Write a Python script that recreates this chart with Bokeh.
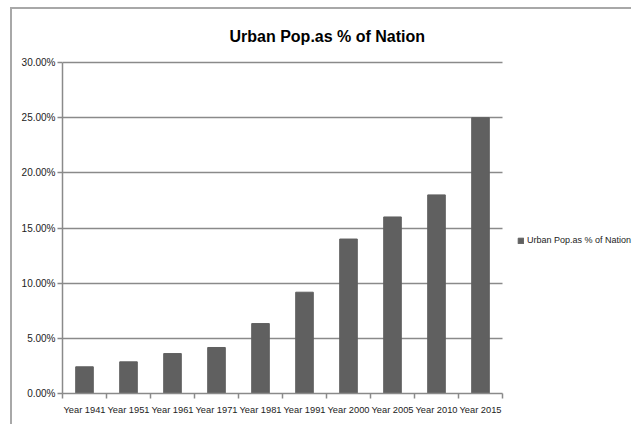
from bokeh.plotting import figure
from bokeh.models import FixedTicker, NumeralTickFormatter, Legend, LegendItem, ColumnDataSource, Range1d
from bokeh.embed import file_html
from bokeh.resources import INLINE

categories = ["Year 1941", "Year 1951", "Year 1961", "Year 1971", "Year 1981",
              "Year 1991", "Year 2000", "Year 2005", "Year 2010", "Year 2015"]
values = [0.0242, 0.0287, 0.0362, 0.0417, 0.0634, 0.0918, 0.14, 0.16, 0.18, 0.25]
y_ticks = [0.0, 0.05, 0.10, 0.15, 0.20, 0.25, 0.30]
series_name = "Urban Pop.as % of Nation"

FONT = "Liberation Sans"

# layout (pixels)
FIG_W, FIG_H = 621, 417
BORDER_L, BORDER_T, BORDER_B = 50, 51, 33
BAR_AREA_W = 440  # pixel width occupied by the category axis
TOP_PAD = 2       # extra pixels above the top gridline so it is not clipped
frame_w = FIG_W - BORDER_L
frame_h = FIG_H - BORDER_T - BORDER_B
n = len(categories)
x_end = n * frame_w / BAR_AREA_W
y_top = y_ticks[-1]
y_end = y_top * frame_h / (frame_h - TOP_PAD)

xs = [i + 0.5 for i in range(n)]
src = ColumnDataSource(dict(x=xs, top=values, cat=categories))

p = figure(width=FIG_W, height=FIG_H, output_backend="svg", toolbar_location=None,
           x_range=Range1d(0, x_end), y_range=Range1d(0, y_end),
           min_border_left=BORDER_L, min_border_right=0, min_border_top=BORDER_T,
           min_border_bottom=BORDER_B)
p.outline_line_color = None
p.background_fill_color = "white"
p.border_fill_color = "white"
p.styles = {"margin-left": "10px", "margin-top": "7px",
            "border-top": "2px solid #a8a8a8", "border-left": "2px solid #a8a8a8"}

r = p.vbar(x="x", top="top", width=0.4, source=src, fill_color="#606060", line_color="#606060")

p.title.text = series_name
p.title.text_font = FONT
p.title.text_font_size = "16px"
p.title.text_font_style = "bold"
p.title.align = "left"
p.title.offset = 167
p.title.standoff = 32
p.title.text_color = "#000000"

# x axis
p.xaxis.bounds = (0, n)
p.xaxis.ticker = FixedTicker(ticks=xs, minor_ticks=list(range(n + 1)))
p.xaxis.major_label_overrides = {x: c for x, c in zip(xs, categories)}
p.xaxis.major_tick_line_color = None
p.xaxis.major_tick_out = 5
p.xaxis.minor_tick_line_color = "#8a8a8a"
p.xaxis.minor_tick_line_width = 1.5
p.xaxis.minor_tick_out = 5
p.xaxis.minor_tick_in = 0
p.xaxis.axis_line_color = "#8a8a8a"
p.xaxis.axis_line_width = 1.5
p.xaxis.major_label_text_font = FONT
p.xaxis.major_label_text_font_size = "9.3px"
p.xaxis.major_label_text_color = "#222222"
p.xaxis.major_label_standoff = 6
p.xgrid.grid_line_color = None

# y axis
p.yaxis.bounds = (0, y_top)
p.yaxis.ticker = FixedTicker(ticks=y_ticks, minor_ticks=[])
p.yaxis.formatter = NumeralTickFormatter(format="0.00%")
p.yaxis.axis_line_color = "#8a8a8a"
p.yaxis.axis_line_width = 1.5
p.yaxis.major_tick_line_color = "#8a8a8a"
p.yaxis.major_tick_line_width = 1.5
p.yaxis.major_tick_out = 5
p.yaxis.major_tick_in = 0
p.yaxis.minor_tick_line_color = None
p.yaxis.major_label_text_font = FONT
p.yaxis.major_label_text_font_size = "10px"
p.yaxis.major_label_text_color = "#222222"
p.yaxis.major_label_standoff = 2
p.ygrid.grid_line_color = "#8a8a8a"
p.ygrid.grid_line_width = 1.5
p.ygrid.cross_bounds = (0, n)

legend = Legend(items=[LegendItem(label=series_name, renderers=[r])],
                location=(BAR_AREA_W + 15, 147), border_line_color=None, background_fill_alpha=0,
                padding=0, margin=0, glyph_width=7, glyph_height=7, label_standoff=3,
                label_text_font=FONT, label_text_font_size="9px", label_height=12,
                label_text_color="#222222")
p.add_layout(legend, "center")

open("out.html", "w").write(file_html(p, INLINE))
